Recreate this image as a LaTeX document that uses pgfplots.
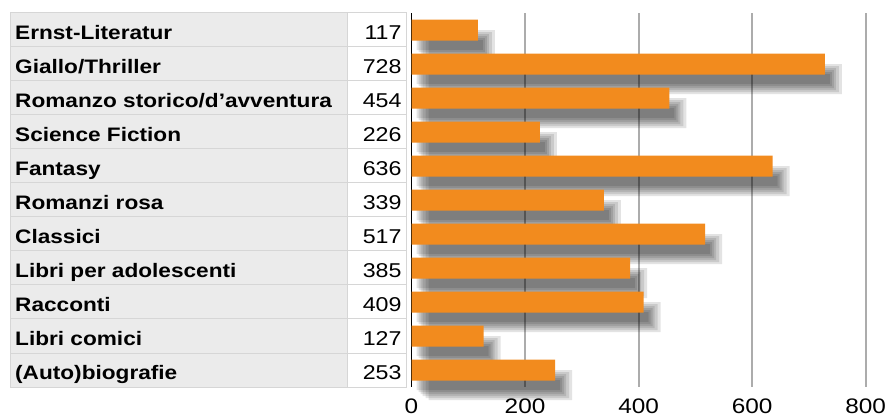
\documentclass[border=0pt]{standalone}
\usepackage{pgfplots}
\pgfplotsset{compat=1.18}
\usepackage{pgfplotstable}
\usepackage{fontspec}
\setmainfont{Liberation Sans}[FakeStretch=1.16]

\definecolor{barorange}{RGB}{242,139,30}
\definecolor{cellgray}{RGB}{235,235,235}
\definecolor{cellline}{RGB}{214,214,214}
\definecolor{gridgray}{RGB}{172,172,172}

\pgfplotstableread{
y v
0 117
1 728
2 454
3 226
4 636
5 339
6 517
7 385
8 409
9 127
10 253
}\data

\pgfplotsset{/pgf/number format/assume math mode=true,
  shadowbar/.style={xbar, bar shift=0pt, fill=black, draw=none, opacity=0.11}}

\begin{document}
\begin{tikzpicture}
\useasboundingbox (0,0) rectangle (888pt,-419pt);
% table background
\fill[cellgray] (10pt,-13pt) rectangle (347.5pt,-387pt);
\fill[white] (347.5pt,-13pt) rectangle (406pt,-387pt);
\foreach \i in {1,...,10}{
  \pgfmathsetmacro\yy{-13-\i*34}
  \draw[cellline, line width=1pt] (10pt,\yy pt) -- (406pt,\yy pt);
}
\draw[cellline, line width=1pt] (10pt,-13pt) rectangle (406pt,-387pt);
\draw[cellline, line width=1pt] (347.5pt,-13pt) -- (347.5pt,-387pt);

\begin{axis}[
  at={(411.5pt,-387pt)}, anchor=south west,
  scale only axis, width=454.2pt, height=374pt,
  xmin=0, xmax=800, ymin=-0.5, ymax=10.5, y dir=reverse,
  clip=false,
  axis lines*=left,
  axis line style={-},
  x axis line style={draw=none},
  y axis line style={black, line width=1.4pt},
  tick style={draw=none},
  xtick={0,200,400,600,800},
  ytick={0,...,10},
  yticklabels={Ernst-Literatur, Giallo/Thriller, Romanzo storico/d’avventura, Science Fiction, Fantasy, Romanzi rosa, Classici, Libri per adolescenti, Racconti, Libri comici, (Auto)biografie},
  yticklabel style={anchor=base west, inner sep=0pt, xshift=-396.5pt, yshift=-9.5pt, font=\bfseries\fontsize{19.5}{22}\selectfont},
  xticklabel style={anchor=base, inner sep=0pt, yshift=-26.5pt, font=\fontsize{21}{24}\selectfont},
  xmajorgrids,
  major grid style={gridgray, line width=1.8pt},
]
% blurred shadow layers
\addplot[shadowbar, bar width=10pt, xshift=5pt, yshift=-15pt] table[x=v,y=y]{\data};
\addplot[shadowbar, bar width=14pt, xshift=7pt, yshift=-15pt] table[x=v,y=y]{\data};
\addplot[shadowbar, bar width=18pt, xshift=9pt, yshift=-15pt] table[x=v,y=y]{\data};
\addplot[shadowbar, bar width=22pt, xshift=11pt, yshift=-15pt] table[x=v,y=y]{\data};
\addplot[shadowbar, bar width=26pt, xshift=14pt, yshift=-15pt] table[x=v,y=y]{\data};
\addplot[shadowbar, bar width=30pt, xshift=17pt, yshift=-15pt] table[x=v,y=y]{\data};
% bars
\addplot[xbar, bar width=21pt, bar shift=0pt, fill=barorange, draw=none] table[x=v,y=y]{\data};
% numbers column
\addplot[draw=none, mark=none, nodes near coords, point meta=explicit,
  every node near coord/.append style={anchor=base east, inner sep=0pt, xshift=-9.8pt, yshift=-9.5pt, font=\fontsize{20}{22}\selectfont, text=black}]
  table[x expr=0, y=y, meta=v]{\data};
\end{axis}
\end{tikzpicture}
\end{document}
